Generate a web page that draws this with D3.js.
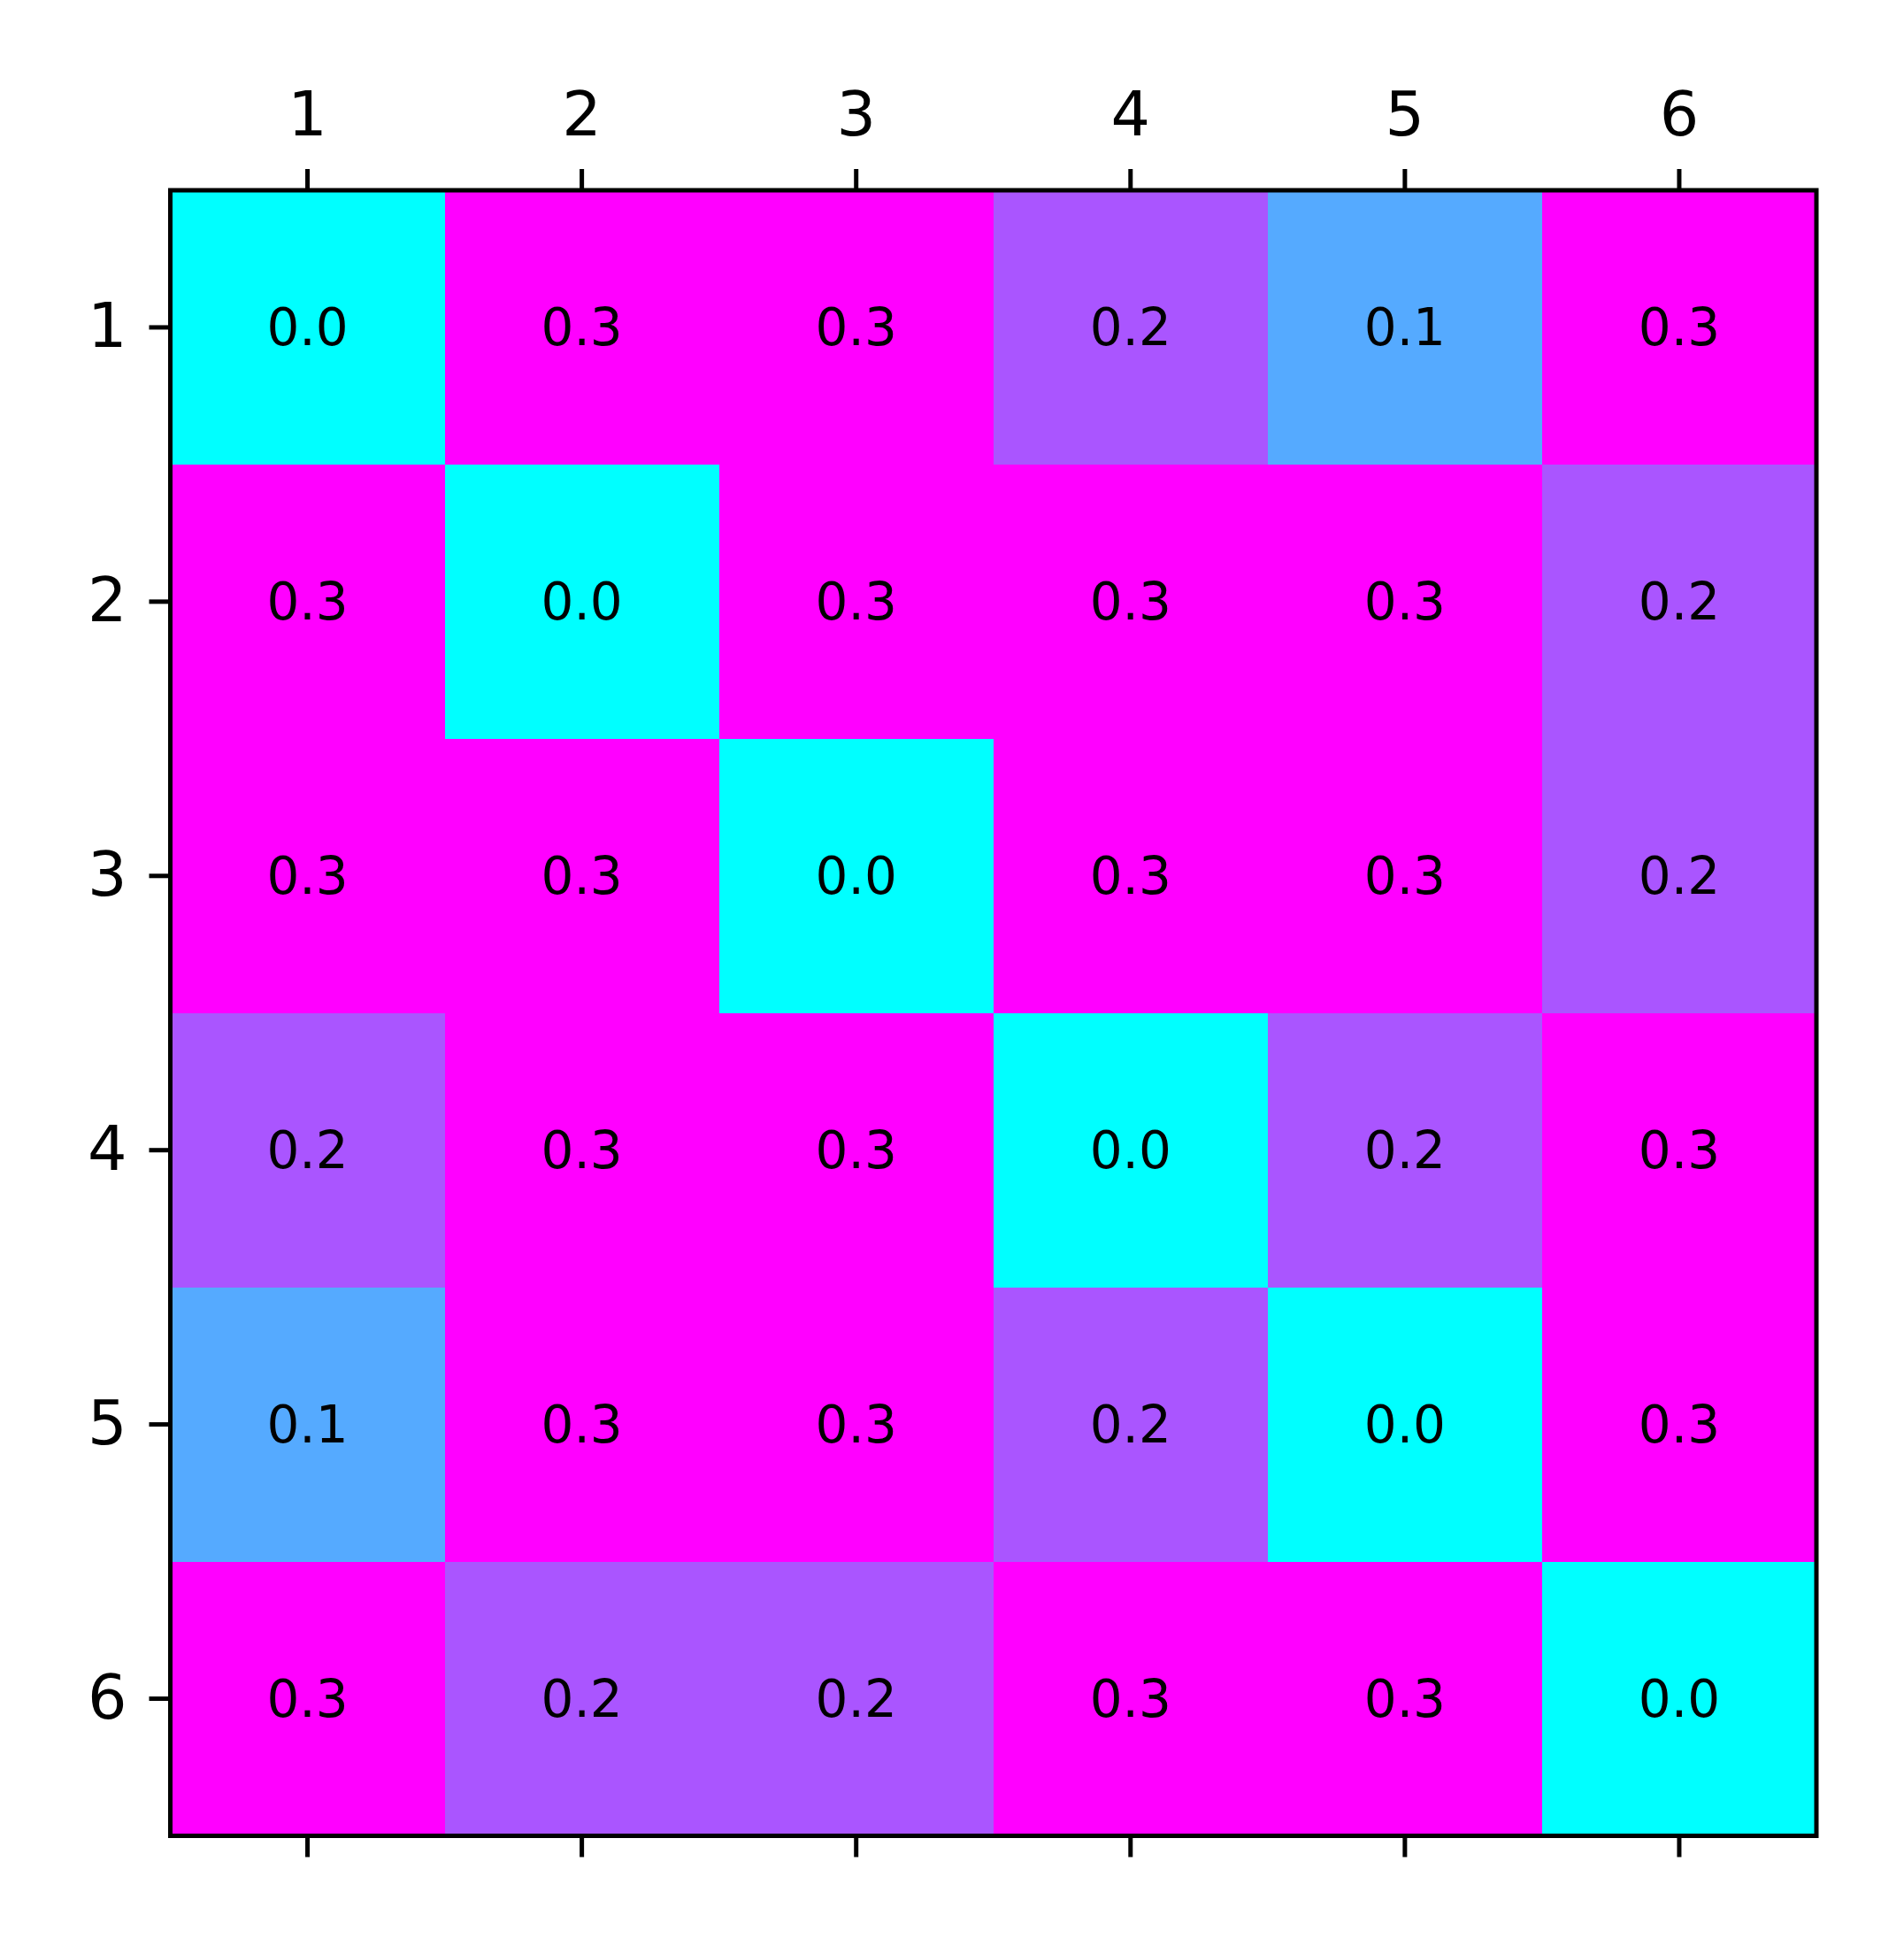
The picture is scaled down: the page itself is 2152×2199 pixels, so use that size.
<!DOCTYPE html>
<html><head><meta charset="utf-8">
<script src="https://cdn.jsdelivr.net/npm/d3@7"></script>
<style>body{margin:0;background:#fff}</style>
</head><body>
<script>
const labels = ["1","2","3","4","5","6"];
const row1 = [0.0,0.3,0.3,0.2,0.1,0.3];
const row2 = [0.3,0.0,0.3,0.3,0.3,0.2];
const row3 = [0.3,0.3,0.0,0.3,0.3,0.2];
const row4 = [0.2,0.3,0.3,0.0,0.2,0.3];
const row5 = [0.1,0.3,0.3,0.2,0.0,0.3];
const row6 = [0.3,0.2,0.2,0.3,0.3,0.0];
const matrix = [row1,row2,row3,row4,row5,row6];

const W = 2152, H = 2199;
const L = 192.5, R = 2053, T = 215, B = 2074.5;
const svg = d3.select("body").append("svg").attr("width",W).attr("height",H)
  .style("font-family","'DejaVu Sans', sans-serif");

const x = d3.scaleBand().domain(labels).range([L,R]).padding(0);
const y = d3.scaleBand().domain(labels).range([T,B]).padding(0);
const vmax = d3.max(matrix.flat()), vmin = d3.min(matrix.flat());
const color = d3.scaleLinear().domain([vmin,vmax]).range(["#00ffff","#ff00ff"]).interpolate(d3.interpolateRgb);

const cells = [];
matrix.forEach((r,i)=>r.forEach((v,j)=>cells.push({r:labels[i],c:labels[j],v})));

svg.append("g").selectAll("rect").data(cells).join("rect")
  .attr("x",d=>x(d.c)).attr("y",d=>y(d.r))
  .attr("width",x.bandwidth()+0.5).attr("height",y.bandwidth()+0.5)
  .attr("fill",d=>color(d.v)).attr("shape-rendering","crispEdges");

svg.append("g").selectAll("text").data(cells).join("text")
  .attr("x",d=>x(d.c)+x.bandwidth()/2).attr("y",d=>y(d.r)+y.bandwidth()/2)
  .attr("text-anchor","middle").attr("dominant-baseline","central")
  .attr("font-size",58).attr("fill","#000")
  .text(d=>d.v.toFixed(1));

const tickLen = 24, lw = 5;
const topAxis = d3.axisTop(x).tickSize(tickLen).tickPadding(38);
const gt = svg.append("g").attr("transform",`translate(0,${T})`).call(topAxis);
const bottomAxis = d3.axisBottom(x).tickSize(tickLen).tickFormat("");
const gb = svg.append("g").attr("transform",`translate(0,${B})`).call(bottomAxis);
const leftAxis = d3.axisLeft(y).tickSize(tickLen).tickPadding(25);
const gl = svg.append("g").attr("transform",`translate(${L},0)`).call(leftAxis);
[gt,gb,gl].forEach(g=>{
  g.select(".domain").remove();
  g.selectAll(".tick line").attr("stroke","#000").attr("stroke-width",lw);
  g.selectAll(".tick text").attr("font-size",70).attr("fill","#000")
   .style("font-family","'DejaVu Sans', sans-serif");
});

svg.append("rect").attr("x",L).attr("y",T).attr("width",R-L).attr("height",B-T)
  .attr("fill","none").attr("stroke","#000").attr("stroke-width",lw);
</script>
</body></html>
